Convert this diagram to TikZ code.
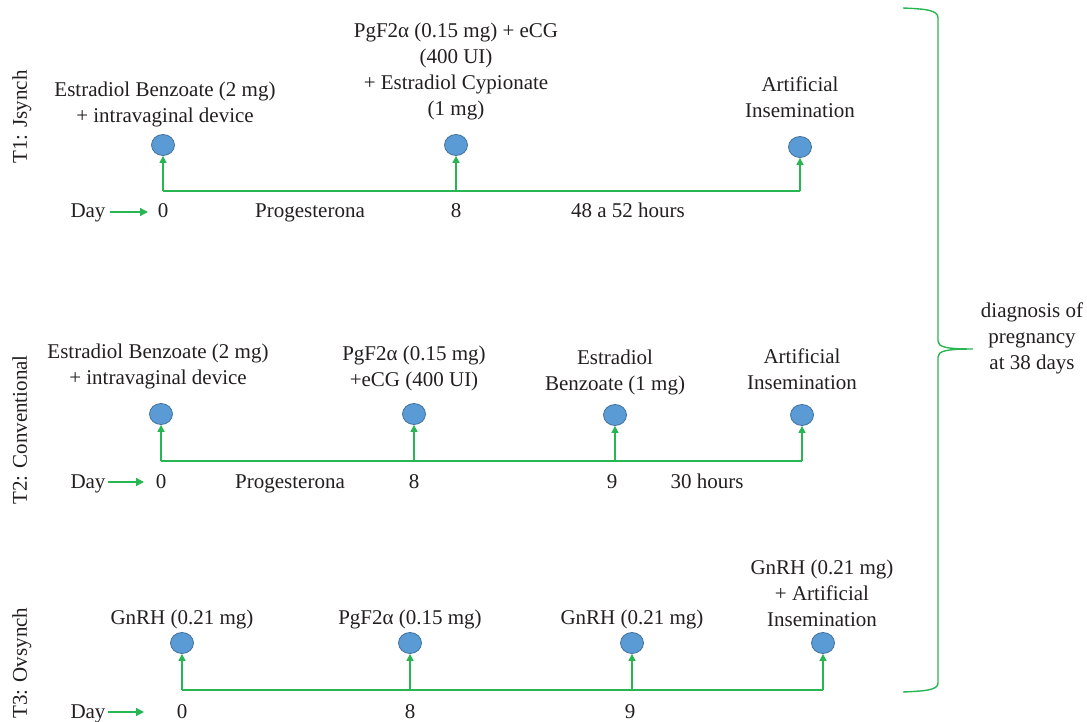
\documentclass[tikz,border=0pt]{standalone}
\usepackage{fontspec}
\setmainfont{Liberation Serif}
\usetikzlibrary{arrows.meta,shapes.geometric}
\definecolor{lgreen}{RGB}{40,182,82}
\definecolor{dotfill}{RGB}{91,155,213}
\definecolor{dotdraw}{RGB}{65,113,156}
\definecolor{txt}{RGB}{35,31,32}
\begin{document}
\begin{tikzpicture}[x=1pt,y=-1pt,
  dot/.style={ellipse, minimum width=23pt, minimum height=21pt, inner sep=0pt, fill=dotfill, draw=dotdraw, line width=0.8pt},
  lbl/.style={font=\fontsize{21}{26}\selectfont, text=txt, align=center, inner sep=0pt},
  tl/.style={draw=lgreen, line width=1.4pt},
  arr/.style={tl, -{Triangle[width=7pt,length=7pt]}},
  harr/.style={tl, -{Triangle[width=8pt,length=8pt]}}]
\useasboundingbox (0,0) rectangle (1087,722);

% ---------- T1 ----------
\node[lbl, rotate=90, anchor=base] (t1) at (27,117) {T1: Jsynch};
\node[dot] (a1) at (163,145) {};
\node[dot] (b1) at (456,145) {};
\node[dot] (c1) at (800,147) {};
\coordinate (a1b) at (163,191);
\coordinate (b1b) at (456,191);
\coordinate (c1b) at (800,191);
\draw[tl] (a1b) -- (c1b);
\draw[arr] (a1b) -- (a1.south);
\draw[arr] (b1b) -- (b1.south);
\draw[arr] (c1b) -- (c1.south);
\node[lbl] (la1) at (165,104) {Estradiol Benzoate (2 mg)\\+ intravaginal device};
\node[lbl] (lb1) at (456,71) {PgF2α (0.15 mg) + eCG\\(400 UI)\\+ Estradiol Cypionate\\(1 mg)};
\node[lbl] (lc1) at (800,97) {Artificial\\Insemination};
\node[lbl, anchor=base] (day1) at (88,218) {Day};
\node[lbl, anchor=base] (d01) at (163,218) {0};
\node[lbl, anchor=base] (p1) at (310,218) {Progesterona};
\node[lbl, anchor=base] (d81) at (456,218) {8};
\node[lbl, anchor=base] (h1) at (628,218) {48 a 52 hours};
\coordinate (s1) at (110,212);
\coordinate (e1) at (148,212);
\draw[harr] (s1) -- (e1);

% ---------- T2 ----------
\node[lbl, rotate=90, anchor=base] (t2) at (27,430) {T2: Conventional};
\node[dot] (a2) at (161,414) {};
\node[dot] (b2) at (414,414) {};
\node[dot] (c2) at (615,415) {};
\node[dot] (e2) at (802,415) {};
\coordinate (a2b) at (161,461);
\coordinate (b2b) at (414,461);
\coordinate (c2b) at (615,461);
\coordinate (e2b) at (802,461);
\draw[tl] (a2b) -- (e2b);
\draw[arr] (a2b) -- (a2.south);
\draw[arr] (b2b) -- (b2.south);
\draw[arr] (c2b) -- (c2.south);
\draw[arr] (e2b) -- (e2.south);
\node[lbl] (la2) at (158,366) {Estradiol Benzoate (2 mg)\\+ intravaginal device};
\node[lbl] (lb2) at (414,368) {PgF2α (0.15 mg)\\+eCG (400 UI)};
\node[lbl] (lc2) at (615,372) {Estradiol\\Benzoate (1 mg)};
\node[lbl] (le2) at (802,369) {Artificial\\Insemination};
\node[lbl, anchor=base] (day2) at (88,488) {Day};
\node[lbl, anchor=base] (d02) at (161,488) {0};
\node[lbl, anchor=base] (p2) at (290,488) {Progesterona};
\node[lbl, anchor=base] (d82) at (414,488) {8};
\node[lbl, anchor=base] (d92) at (612,488) {9};
\node[lbl, anchor=base] (h2) at (707,488) {30 hours};
\coordinate (s2) at (108,482);
\coordinate (e2e) at (144,482);
\draw[harr] (s2) -- (e2e);

% ---------- T3 ----------
\node[lbl, rotate=90, anchor=base] (t3) at (27,663) {T3: Ovsynch};
\node[dot] (a3) at (182,643) {};
\node[dot] (b3) at (410,643) {};
\node[dot] (c3) at (632,643) {};
\node[dot] (e3) at (823,643) {};
\coordinate (a3b) at (182,690);
\coordinate (b3b) at (410,690);
\coordinate (c3b) at (632,690);
\coordinate (e3b) at (823,690);
\draw[tl] (a3b) -- (e3b);
\draw[arr] (a3b) -- (a3.south);
\draw[arr] (b3b) -- (b3.south);
\draw[arr] (c3b) -- (c3.south);
\draw[arr] (e3b) -- (e3.south);
\node[lbl] (la3) at (182,619) {GnRH (0.21 mg)};
\node[lbl] (lb3) at (410,619) {PgF2α (0.15 mg)};
\node[lbl] (lc3) at (632,619) {GnRH (0.21 mg)};
\node[lbl] (le3) at (822,593) {GnRH (0.21 mg)\\+ Artificial\\Insemination};
\node[lbl, anchor=base] (day3) at (88,718) {Day};
\node[lbl, anchor=base] (d03) at (182,718) {0};
\node[lbl, anchor=base] (d83) at (410,718) {8};
\node[lbl, anchor=base] (d93) at (630,718) {9};
\coordinate (s3) at (108,712);
\coordinate (e3e) at (144,712);
\draw[harr] (s3) -- (e3e);

% ---------- brace ----------
\coordinate (btop) at (903,8);
\coordinate (btip) at (973,349);
\coordinate (bbot) at (903,692);
\draw[tl] (btop) .. controls (926,9) and (938,10) .. (938,18) -- (938,341)
  .. controls (938,347) and (946,349) .. (btip)
  .. controls (946,349) and (938,351) .. (938,357) -- (938,683)
  .. controls (938,690) and (926,691) .. (bbot);
\node[lbl] (diag) at (1032,338) {diagnosis of\\pregnancy\\at 38 days};
\end{tikzpicture}
\end{document}
